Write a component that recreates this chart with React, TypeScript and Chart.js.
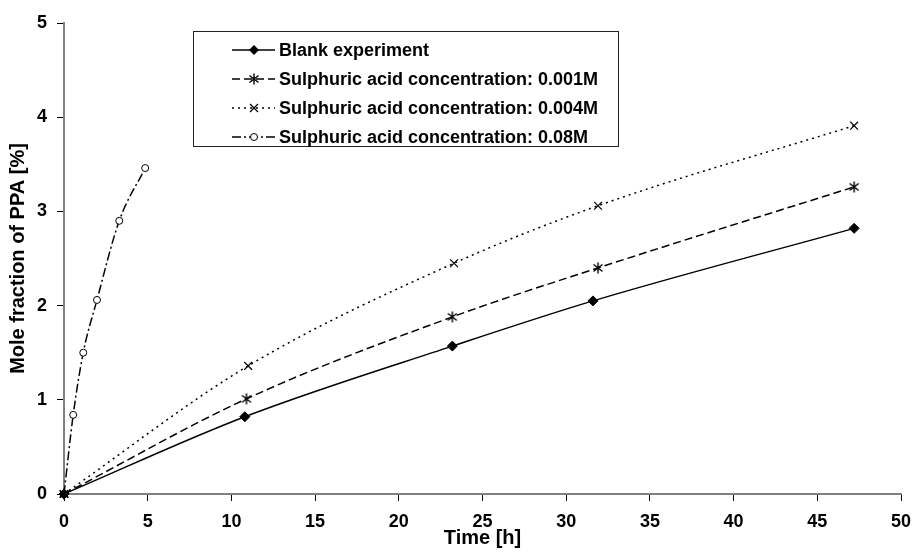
import React, { useEffect, useRef } from "react";
import { Chart, registerables } from "chart.js";

Chart.register(...registerables);

const blankX = [0, 10.8, 23.2, 31.6, 47.2];
const blankY = [0, 0.82, 1.57, 2.05, 2.82];

const acid001X = [0, 10.9, 23.2, 31.9, 47.2];
const acid001Y = [0, 1.01, 1.88, 2.4, 3.26];

const acid004X = [0, 11.0, 23.3, 31.9, 47.2];
const acid004Y = [0, 1.36, 2.45, 3.06, 3.91];

const acid08X = [0, 0.55, 1.15, 1.97, 3.3, 4.85];
const acid08Y = [0, 0.84, 1.5, 2.06, 2.9, 3.46];

const legendLabels = [
  "Blank experiment",
  "Sulphuric acid concentration: 0.001M",
  "Sulphuric acid concentration: 0.004M",
  "Sulphuric acid concentration: 0.08M",
];

const xTitle = "Time [h]";
const yTitle = "Mole fraction of PPA [%]";

const FONT = "'Liberation Sans', Arial, sans-serif";

function pts(xs: number[], ys: number[]) {
  return xs.map((x, i) => ({ x, y: ys[i] }));
}

function makeStar(): HTMLCanvasElement {
  const c = document.createElement("canvas");
  c.width = 12;
  c.height = 12;
  const g = c.getContext("2d")!;
  g.strokeStyle = "#000";
  g.lineWidth = 1.4;
  g.beginPath();
  g.moveTo(1.5, 2.5);
  g.lineTo(10.5, 9.5);
  g.moveTo(10.5, 2.5);
  g.lineTo(1.5, 9.5);
  g.moveTo(6, 0.5);
  g.lineTo(6, 11.5);
  g.stroke();
  return c;
}

function drawMarker(ctx: CanvasRenderingContext2D, kind: number, x: number, y: number, star: HTMLCanvasElement) {
  ctx.save();
  ctx.setLineDash([]);
  ctx.strokeStyle = "#000";
  ctx.fillStyle = "#000";
  ctx.lineWidth = 1.2;
  if (kind === 0) {
    const r = 5;
    ctx.beginPath();
    ctx.moveTo(x, y - r);
    ctx.lineTo(x + r, y);
    ctx.lineTo(x, y + r);
    ctx.lineTo(x - r, y);
    ctx.closePath();
    ctx.fill();
  } else if (kind === 1) {
    ctx.drawImage(star, x - star.width / 2, y - star.height / 2);
  } else if (kind === 2) {
    const r = 4;
    ctx.beginPath();
    ctx.moveTo(x - r, y - r);
    ctx.lineTo(x + r, y + r);
    ctx.moveTo(x + r, y - r);
    ctx.lineTo(x - r, y + r);
    ctx.stroke();
  } else {
    ctx.fillStyle = "#fff";
    ctx.lineWidth = 1;
    ctx.beginPath();
    ctx.arc(x, y, 3.5, 0, Math.PI * 2);
    ctx.fill();
    ctx.stroke();
  }
  ctx.restore();
}

const dashes: number[][] = [[], [8, 4], [2, 4], [9, 3, 2, 3]];

export default function App() {
  const ref = useRef<HTMLCanvasElement | null>(null);

  useEffect(() => {
    if (!ref.current) return;
    const star = makeStar();

    const legendPlugin = {
      id: "boxLegend",
      afterDraw(chart: any) {
        const ctx: CanvasRenderingContext2D = chart.ctx;
        ctx.save();
        ctx.strokeStyle = "#222";
        ctx.lineWidth = 1;
        ctx.strokeRect(193.5, 31.5, 425, 115);
        const rows = [50, 79, 108, 137];
        legendLabels.forEach((label, i) => {
          const y = rows[i];
          ctx.save();
          ctx.strokeStyle = "#000";
          ctx.lineWidth = 1.5;
          ctx.setLineDash(dashes[i]);
          ctx.beginPath();
          ctx.moveTo(232, y);
          ctx.lineTo(275, y);
          ctx.stroke();
          ctx.restore();
          drawMarker(ctx, i, 254, y, star);
          ctx.fillStyle = "#000";
          ctx.font = `bold 18px ${FONT}`;
          ctx.textBaseline = "middle";
          ctx.textAlign = "left";
          ctx.fillText(label, 279, y + 1);
        });
        ctx.restore();
      },
    };

    const common = {
      borderColor: "#000",
      borderWidth: 1.5,
      showLine: true,
      cubicInterpolationMode: "monotone" as const,
      pointBorderColor: "#000",
      pointBackgroundColor: "#000",
    };

    const chart = new Chart(ref.current, {
      type: "scatter",
      data: {
        datasets: [
          {
            ...common,
            label: legendLabels[0],
            data: pts(blankX, blankY),
            pointStyle: "rectRot",
            pointRadius: 5,
            pointBorderWidth: 1,
          },
          {
            ...common,
            label: legendLabels[1],
            data: pts(acid001X, acid001Y),
            borderDash: dashes[1],
            pointStyle: star as any,
            pointRadius: 6,
          },
          {
            ...common,
            label: legendLabels[2],
            data: pts(acid004X, acid004Y),
            borderDash: dashes[2],
            pointStyle: "crossRot",
            pointRadius: 5.5,
            pointBorderWidth: 1.2,
          },
          {
            ...common,
            label: legendLabels[3],
            data: pts(acid08X, acid08Y),
            borderDash: dashes[3],
            pointStyle: "circle",
            pointRadius: 3.5,
            pointBorderWidth: 1,
            pointBackgroundColor: "#fff",
          },
        ] as any,
      },
      options: {
        responsive: false,
        animation: false,
        devicePixelRatio: 1,
        clip: false as any,
        layout: { autoPadding: false, padding: { left: 0, right: 11, top: 23, bottom: 0 } },
        plugins: {
          legend: { display: false },
          tooltip: { enabled: false },
        },
        scales: {
          x: {
            type: "linear",
            min: 0,
            max: 50,
            grid: {
              display: true,
              drawOnChartArea: false,
              drawTicks: true,
              tickLength: 7,
              color: "#000",
              lineWidth: 1,
            },
            border: { display: true, color: "#808080", width: 2 },
            ticks: {
              stepSize: 5,
              color: "#000",
              padding: 10,
              maxRotation: 0,
              font: { family: FONT, size: 18, weight: "bold" },
            },
            title: {
              display: true,
              text: xTitle,
              color: "#000",
              font: { family: FONT, size: 20, weight: "bold" },
              padding: { top: 0, bottom: 4 },
            },
            afterFit: (s: any) => {
              s.height = 60;
              s.paddingLeft = 0;
              s.paddingRight = 0;
            },
          },
          y: {
            type: "linear",
            min: 0,
            max: 5,
            grid: {
              display: true,
              drawOnChartArea: false,
              drawTicks: true,
              tickLength: 7,
              color: "#000",
              lineWidth: 1,
            },
            border: { display: true, color: "#808080", width: 2 },
            ticks: {
              stepSize: 1,
              color: "#000",
              padding: 10,
              font: { family: FONT, size: 18, weight: "bold" },
            },
            title: {
              display: true,
              text: yTitle,
              color: "#000",
              font: { family: FONT, size: 20, weight: "bold" },
              padding: { top: 6, bottom: 0 },
            },
            afterFit: (s: any) => {
              s.width = 64;
              s.paddingTop = 0;
              s.paddingBottom = 0;
            },
          },
        },
      } as any,
      plugins: [legendPlugin],
    });
    return () => chart.destroy();
  }, []);

  return (
    <div style={{ position: "absolute", left: 0, top: 0, width: 912, height: 554, background: "#fff" }}>
      <canvas ref={ref} width={912} height={554} style={{ width: 912, height: 554, display: "block" }} />
    </div>
  );
}
